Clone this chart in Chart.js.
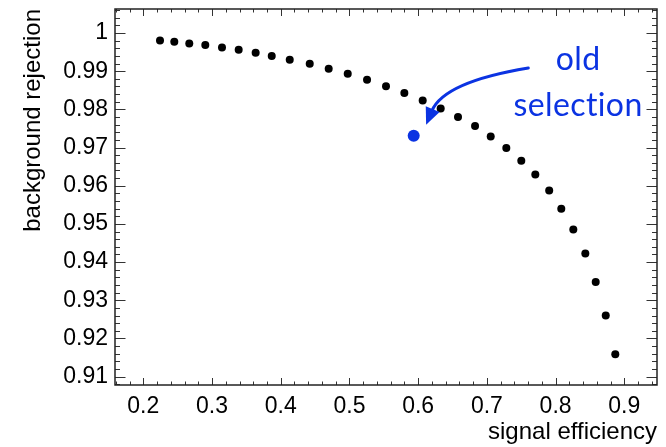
<!DOCTYPE html>
<html>
<head>
<meta charset="utf-8">
<script src="https://cdn.jsdelivr.net/npm/chart.js@4.4.1/dist/chart.umd.min.js"></script>
<style>
  html, body { margin: 0; padding: 0; background: #fff; }
  #wrap { width: 666px; height: 447px; }
</style>
</head>
<body>
<div id="wrap"><canvas id="c" width="666" height="447"></canvas></div>
<script>
// ---- data ----
const signalEfficiency = [0.2243, 0.2451, 0.2669, 0.2902, 0.3145, 0.3388, 0.3635, 0.3869, 0.4131, 0.4422,
  0.4698, 0.4975, 0.5256, 0.5532, 0.5799, 0.6066, 0.6328, 0.6580, 0.6828, 0.7056,
  0.7283, 0.7501, 0.7705, 0.7907, 0.8083, 0.8258, 0.8433, 0.8584, 0.8730, 0.8869];
const backgroundRejection = [0.99806, 0.99772, 0.99727, 0.99686, 0.99623, 0.99562, 0.99484, 0.99397, 0.99300, 0.99195,
  0.99064, 0.98933, 0.98776, 0.98606, 0.98428, 0.98234, 0.98024, 0.97799, 0.97563, 0.97290,
  0.96986, 0.96654, 0.96295, 0.95875, 0.95396, 0.94853, 0.94224, 0.93475, 0.92600, 0.91588];
const oldSelectionEff = [0.5935];
const oldSelectionRej = [0.97309];
const xTickValues = [0.2, 0.3, 0.4, 0.5, 0.6, 0.7, 0.8, 0.9];
const xTickLabels = ['0.2', '0.3', '0.4', '0.5', '0.6', '0.7', '0.8', '0.9'];
const yTickValues = [0.91, 0.92, 0.93, 0.94, 0.95, 0.96, 0.97, 0.98, 0.99, 1.0];
const yTickLabels = ['0.91', '0.92', '0.93', '0.94', '0.95', '0.96', '0.97', '0.98', '0.99', '1'];
const annotationLines = ['old', 'selection'];

// annotation anchors (data coordinates)
const annotText = { x: 0.8327, y: [0.9902, 0.97814] };
const annotArrow = { from: [0.7603, 0.99083], ctrl: [0.6376, 0.98719], to: [0.6116, 0.97597] };

const BLUE = '#0b33e2';
const FONT = "'Liberation Sans', Arial, Helvetica, sans-serif";

const frameTicks = {
  id: 'frameTicks',
  beforeDatasetsDraw(chart) {
    const { ctx, chartArea: a, scales: { x, y } } = chart;
    ctx.save();
    ctx.strokeStyle = '#333';
    ctx.lineWidth = 1;
    const px = v => Math.round(v) + 0.5;
    for (let k = Math.ceil(x.min / 0.02 - 1e-6); k * 0.02 <= x.max + 1e-9; k++) {
      const v = k * 0.02;
      const major = Math.abs(v * 10 - Math.round(v * 10)) < 1e-6;
      const len = major ? 7 : 3.5;
      const X = px(x.getPixelForValue(v));
      ctx.beginPath();
      ctx.moveTo(X, a.bottom); ctx.lineTo(X, a.bottom - len);
      ctx.moveTo(X, a.top); ctx.lineTo(X, a.top + len);
      ctx.stroke();
    }
    for (let k = Math.ceil(y.min / 0.002 - 1e-6); k * 0.002 <= y.max + 1e-9; k++) {
      const v = k * 0.002;
      const major = Math.abs(v * 100 - Math.round(v * 100)) < 1e-6;
      const len = major ? 10.5 : 5;
      const Y = px(y.getPixelForValue(v));
      ctx.beginPath();
      ctx.moveTo(a.left, Y); ctx.lineTo(a.left + len, Y);
      ctx.moveTo(a.right, Y); ctx.lineTo(a.right - len, Y);
      ctx.stroke();
    }
    ctx.lineWidth = 1.5;
    ctx.strokeStyle = '#222';
    ctx.strokeRect(a.left, a.top, a.right - a.left, a.bottom - a.top);
    ctx.restore();
  },
  afterDatasetsDraw(chart) {
    const { ctx, scales: { x, y } } = chart;
    ctx.save();
    const P0 = [x.getPixelForValue(annotArrow.from[0]), y.getPixelForValue(annotArrow.from[1])];
    const C = [x.getPixelForValue(annotArrow.ctrl[0]), y.getPixelForValue(annotArrow.ctrl[1])];
    const T = [x.getPixelForValue(annotArrow.to[0]), y.getPixelForValue(annotArrow.to[1])];
    let dx = T[0] - C[0], dy = T[1] - C[1];
    const d = Math.hypot(dx, dy); dx /= d; dy /= d;
    const headLen = 17, headHalf = 7.5;
    const B = [T[0] - dx * headLen, T[1] - dy * headLen];
    ctx.strokeStyle = BLUE;
    ctx.fillStyle = BLUE;
    ctx.lineWidth = 3;
    ctx.lineCap = 'round';
    ctx.beginPath();
    ctx.moveTo(P0[0], P0[1]);
    ctx.quadraticCurveTo(C[0], C[1], B[0] + dx * 2, B[1] + dy * 2);
    ctx.stroke();
    ctx.beginPath();
    ctx.moveTo(T[0], T[1]);
    ctx.lineTo(B[0] - dy * headHalf, B[1] + dx * headHalf);
    ctx.lineTo(B[0] + dy * headHalf, B[1] - dx * headHalf);
    ctx.closePath();
    ctx.fill();
    ctx.font = "32px Lato, 'Open Sans', sans-serif";
    ctx.textAlign = 'center';
    ctx.textBaseline = 'alphabetic';
    try { ctx.letterSpacing = '0.4px'; } catch (e) {}
    try { ctx.textRendering = 'optimizeSpeed'; } catch (e) {}
    const tx = x.getPixelForValue(annotText.x);
    annotationLines.forEach((s, i) => {
      const t = y.getPixelForValue(annotText.y[i]);
      ctx.fillText(s, tx, t);
    });
    ctx.restore();
  }
};

new Chart(document.getElementById('c'), {
  type: 'scatter',
  data: {
    datasets: [
      {
        data: signalEfficiency.map((v, i) => ({ x: v, y: backgroundRejection[i] })),
        pointRadius: 4, pointBackgroundColor: '#000', pointBorderWidth: 0, showLine: false
      },
      {
        data: oldSelectionEff.map((v, i) => ({ x: v, y: oldSelectionRej[i] })),
        pointRadius: 6, pointBackgroundColor: BLUE, pointBorderWidth: 0, showLine: false
      }
    ]
  },
  options: {
    responsive: false,
    devicePixelRatio: 1,
    animation: false,
    events: [],
    layout: { padding: { top: 9, right: 9, left: 0, bottom: 0 } },
    plugins: { legend: { display: false }, tooltip: { enabled: false } },
    scales: {
      x: {
        type: 'linear', min: 0.1588, max: 0.9476,
        afterBuildTicks: s => { s.ticks = xTickValues.map(v => ({ value: v })); },
        afterFit: s => { s.height = 62; s.paddingLeft = 0; s.paddingRight = 0; },
        grid: { display: false, drawTicks: false },
        border: { display: false },
        ticks: {
          padding: 8, color: '#000', font: { family: FONT, size: 23 },
          maxRotation: 0, autoSkip: false,
          callback: (v) => { const i = xTickValues.findIndex(t => Math.abs(t - v) < 1e-9); return i >= 0 ? xTickLabels[i] : ''; }
        },
        title: { display: true, text: 'signal efficiency', align: 'end', color: '#000',
          font: { family: FONT, size: 24 }, padding: { top: 0, bottom: 0 } }
      },
      y: {
        type: 'linear', min: 0.9078, max: 1.0063,
        afterBuildTicks: s => { s.ticks = yTickValues.map(v => ({ value: v })); },
        afterFit: s => { s.width = 115; s.paddingTop = 0; s.paddingBottom = 0; },
        grid: { display: false, drawTicks: false },
        border: { display: false },
        ticks: {
          padding: 7, color: '#000', font: { family: FONT, size: 23 }, autoSkip: false,
          callback: (v) => { const i = yTickValues.findIndex(t => Math.abs(t - v) < 1e-9); return i >= 0 ? yTickLabels[i] : ''; }
        },
        title: { display: true, text: 'background rejection', align: 'end', color: '#000',
          font: { family: FONT, size: 24 }, padding: { top: 19, bottom: 0 } }
      }
    }
  },
  plugins: [frameTicks]
});
</script>
</body>
</html>
